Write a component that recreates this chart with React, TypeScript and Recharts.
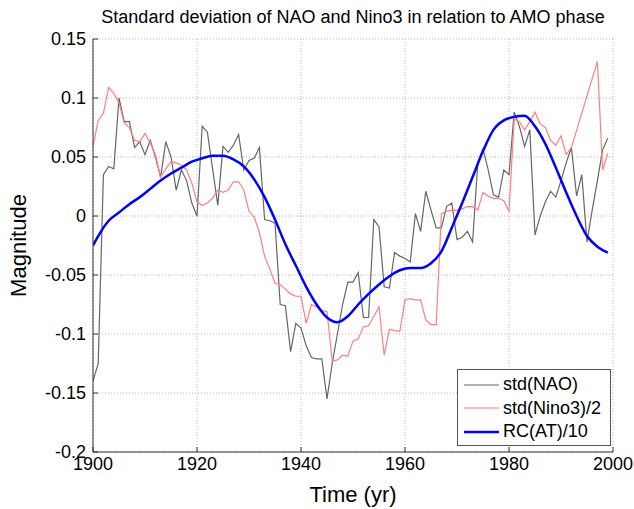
import React from "react";
import { LineChart, Line, XAxis, YAxis, CartesianGrid, Legend, Label } from "recharts";

// annual values, 1900-1999
const years = Array.from({ length: 100 }, (_, i) => 1900 + i);

const naoStd = [
  -0.14, -0.125, 0.035, 0.042, 0.04, 0.1, 0.08, 0.08, 0.058, 0.063,
  0.052, 0.064, 0.05, 0.033, 0.063, 0.05, 0.022, 0.039, 0.03, 0.011,
  0.0, 0.076, 0.071, 0.04, 0.009, 0.059, 0.054, 0.06, 0.069, 0.039,
  0.047, 0.049, 0.058, -0.003, -0.004, -0.006, -0.075, -0.076, -0.115, -0.091,
  -0.095, -0.11, -0.12, -0.121, -0.121, -0.155, -0.125, -0.1, -0.075, -0.056,
  -0.056, -0.048, -0.086, -0.086, -0.003, -0.009, -0.06, -0.061, -0.031, -0.034,
  -0.036, -0.039, 0.002, -0.013, 0.021, 0.005, -0.01, -0.01, 0.008, 0.011,
  -0.02, -0.018, -0.013, -0.022, 0.045, 0.057, 0.039, 0.018, 0.016, 0.039,
  0.035, 0.088, 0.076, 0.059, 0.073, -0.016, 0.0, 0.012, 0.021, 0.016,
  0.03, 0.045, 0.058, 0.017, 0.035, -0.022, 0.005, 0.03, 0.056, 0.066,
];

const nino3Half = [
  0.059, 0.081, 0.087, 0.109, 0.104, 0.096, 0.079, 0.075, 0.064, 0.063,
  0.07, 0.062, 0.052, 0.033, 0.04, 0.046, 0.045, 0.043, 0.039, 0.028,
  0.012, 0.009, 0.011, 0.015, 0.022, 0.02, 0.022, 0.029, 0.029, 0.022,
  0.004, -0.001, -0.014, -0.034, -0.045, -0.057, -0.058, -0.062, -0.066, -0.068,
  -0.068, -0.091, -0.075, -0.077, -0.08, -0.081, -0.123, -0.122, -0.118, -0.119,
  -0.106, -0.104, -0.094, -0.093, -0.085, -0.077, -0.118, -0.096, -0.097, -0.098,
  -0.071, -0.07, -0.071, -0.071, -0.088, -0.092, -0.092, 0.002, 0.004, 0.005,
  0.005, 0.006, 0.008, 0.008, 0.005, 0.02, 0.017, 0.015, 0.015, 0.013,
  0.004, 0.082, 0.08, 0.073, 0.08, 0.088, 0.078, 0.075, 0.064, 0.06,
  0.068, 0.052, 0.058, null, null, null, null, 0.131, 0.039, 0.053,
];

const rcYears = [
  1900, 1901, 1903, 1905, 1907, 1909, 1911, 1913, 1915, 1917, 1919, 1921, 1923,
  1925, 1927, 1929, 1931, 1933, 1935, 1937, 1939, 1941, 1943, 1945, 1947, 1949,
  1951, 1953, 1955, 1957, 1959, 1961, 1963, 1965, 1967, 1969, 1971, 1973, 1975,
  1977, 1979, 1981, 1983, 1985, 1987, 1989, 1991, 1993, 1995, 1997, 1999,
];
const rcAT = [
  -0.025, -0.017, -0.004, 0.003, 0.01, 0.016, 0.023, 0.03, 0.036, 0.041, 0.046, 0.049, 0.051,
  0.051, 0.048, 0.042, 0.031, 0.016, -0.003, -0.024, -0.042, -0.06, -0.075, -0.086, -0.09, -0.085,
  -0.075, -0.066, -0.058, -0.051, -0.046, -0.044, -0.044, -0.04, -0.03, -0.01, 0.011, 0.033, 0.055,
  0.073, 0.081, 0.084, 0.085, 0.076, 0.061, 0.041, 0.02, 0.0, -0.017, -0.026, -0.031,
];

const xTicks = [1900, 1920, 1940, 1960, 1980, 2000];
const yTicks = [-0.2, -0.15, -0.1, -0.05, 0, 0.05, 0.1, 0.15];
const legendOrder = ["nao", "nino", "rc"];

const annual = years.map((year, i) => ({ year, nao: naoStd[i], nino: nino3Half[i] }));
const rcData = rcYears.map((year, i) => ({ year, rc: rcAT[i] }));

const FONT = "'Liberation Sans', Arial, Helvetica, sans-serif";
const widths: Record<string, number> = { nao: 1.2, nino: 1.2, rc: 2.5 };

const renderLegend = (props: any) => {
  const items = [...(props.payload || [])].sort(
    (a: any, b: any) => legendOrder.indexOf(a.dataKey) - legendOrder.indexOf(b.dataKey)
  );
  return (
    <div
      style={{
        border: "1px solid #555",
        background: "#fff",
        padding: "3px 6px",
        boxSizing: "border-box",
        width: 154,
        height: 77,
        fontFamily: FONT,
      }}
    >
      {items.map((entry: any) => (
        <div key={entry.value} style={{ display: "flex", alignItems: "center", height: 23.5 }}>
          <svg width={35} height={4}>
            <line x1={0} y1={2} x2={35} y2={2} stroke={entry.color} strokeWidth={widths[entry.dataKey] || 1.2} />
          </svg>
          <span style={{ marginLeft: 4, fontSize: 18, color: "#000", whiteSpace: "nowrap" }}>{entry.value}</span>
        </div>
      ))}
    </div>
  );
};

export default function App() {
  return (
    <div style={{ position: "absolute", left: 0, top: 0, width: 634, height: 509, background: "#fff", fontFamily: FONT }}>
      <div
        style={{
          position: "absolute",
          left: 93,
          top: 8,
          width: 520,
          textAlign: "center",
          fontSize: 18,
          lineHeight: "18px",
          color: "#000",
          whiteSpace: "nowrap",
        }}
      >
        Standard deviation of NAO and Nino3 in relation to AMO phase
      </div>
      <LineChart width={634} height={509} margin={{ top: 39, right: 21, bottom: 0, left: 0 }}>
        <CartesianGrid stroke="#b8b8b8" strokeDasharray="1 2" horizontalValues={yTicks} verticalValues={xTicks} />
        <XAxis
          dataKey="year"
          type="number"
          domain={[1900, 2000]}
          ticks={xTicks}
          allowDataOverflow
          height={57}
          stroke="#333"
          tickSize={-5}
          tickMargin={10}
          tick={{ fill: "#000", fontSize: 18, fontFamily: FONT }}
        >
          <Label
            content={({ viewBox }: any) => (
              <text x={viewBox.x + viewBox.width / 2} y={502} textAnchor="middle" fontSize={22} fontFamily={FONT} fill="#000">
                Time (yr)
              </text>
            )}
          />
        </XAxis>
        <XAxis
          xAxisId="top"
          orientation="top"
          type="number"
          domain={[1900, 2000]}
          ticks={xTicks}
          height={0}
          stroke="#333"
          tickSize={-5}
          tickFormatter={() => ""}
        />
        <YAxis
          type="number"
          domain={[-0.2, 0.15]}
          ticks={yTicks}
          allowDataOverflow
          width={93}
          stroke="#333"
          tickSize={-5}
          tickMargin={12}
          tickFormatter={(v: number) => String(v)}
          tick={{ fill: "#000", fontSize: 18, fontFamily: FONT }}
        >
          <Label
            content={({ viewBox }: any) => {
              const cy = viewBox.y + viewBox.height / 2;
              return (
                <text x={26} y={cy} transform={`rotate(-90 26 ${cy})`} textAnchor="middle" fontSize={22} fontFamily={FONT} fill="#000">
                  Magnitude
                </text>
              );
            }}
          />
        </YAxis>
        <YAxis
          yAxisId="right"
          orientation="right"
          type="number"
          domain={[-0.2, 0.15]}
          ticks={yTicks}
          width={0}
          stroke="#333"
          tickSize={-5}
          tickFormatter={() => ""}
        />
        <Legend
          layout="vertical"
          align="center"
          verticalAlign="middle"
          content={renderLegend}
          wrapperStyle={{ left: 457, top: 369, width: 154 }}
        />
        <Line
          data={annual}
          dataKey="nao"
          name="std(NAO)"
          stroke="#666666"
          strokeWidth={1.2}
          dot={false}
          isAnimationActive={false}
        />
        <Line
          data={annual}
          dataKey="nino"
          name="std(Nino3)/2"
          stroke="#ff7f7f"
          strokeWidth={1.2}
          dot={false}
          connectNulls
          isAnimationActive={false}
        />
        <Line
          data={rcData}
          dataKey="rc"
          name="RC(AT)/10"
          type="monotone"
          stroke="#0000ff"
          strokeWidth={2.5}
          dot={false}
          isAnimationActive={false}
        />
      </LineChart>
    </div>
  );
}
